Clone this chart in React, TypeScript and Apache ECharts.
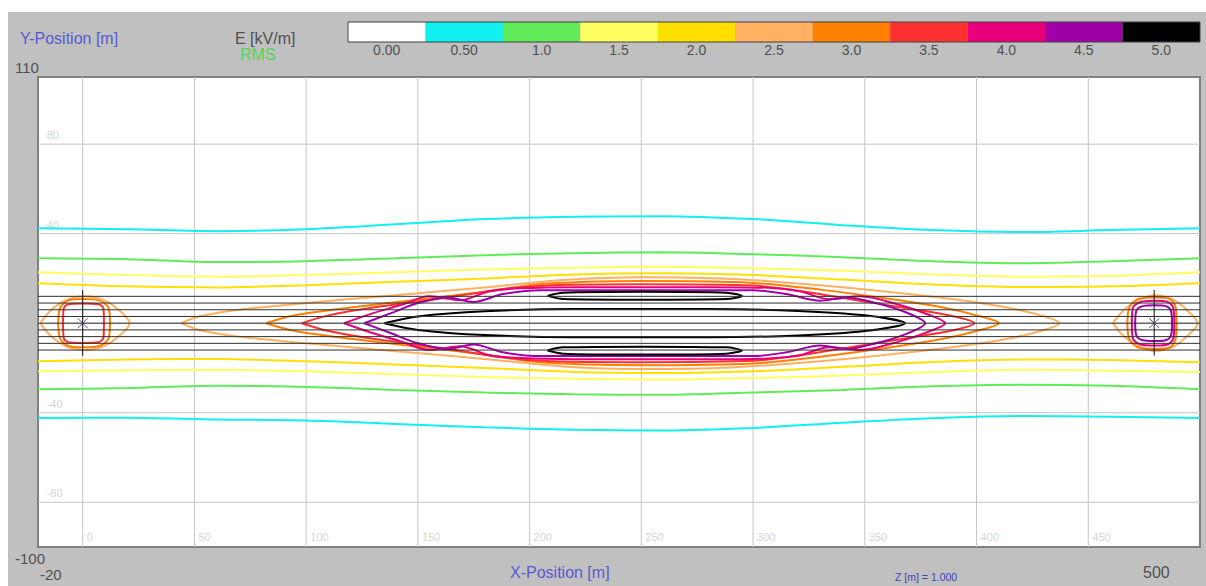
import React, { useEffect, useRef } from 'react';
import * as echarts from 'echarts';

type P = [number, number];

const X_MIN = -20;
const X_MAX = 500;
const Y_MIN = -100;
const Y_MAX = 110;
const X_GRID = [0, 50, 100, 150, 200, 250, 300, 350, 400, 450];
const Y_GRID = [80, 40, 0, -40, -80];
const Y_GRID_LABELS = [80, 40, -40, -80];
const LEGEND_LABELS = ['0.00', '0.50', '1.0', '1.5', '2.0', '2.5', '3.0', '3.5', '4.0', '4.5', '5.0'];
const LEGEND_COLORS = ['#ffffff', '#10f0f0', '#60ec58', '#ffff60', '#ffe000', '#ffb060', '#ff8000', '#ff3030', '#e8007a', '#a000a8', '#000000'];
const CONDUCTOR_Y = [12, 9, 6, 3, 0, -3, -6, -9, -12];
const TOWER_X = [0, 479.5];
const TOWER_Y = [-14.5, 14.8];

// level index -> 1: 0.5, 2: 1.0, 3: 1.5, 4: 2.0, 5: 2.5, 6: 3.0, 7: 3.5, 8: 4.0, 9: 4.5, 10: 5.0
const C05_UP: P[] = [[-20, 42.4], [20, 42.0], [60, 41.1], [100, 42.0], [140, 44.2], [180, 46.5], [220, 47.6], [260, 47.8], [300, 46.5], [340, 43.8], [380, 41.6], [420, 40.7], [460, 41.6], [500, 42.4]];
const C05_DN: P[] = [[-20, -42.4], [20, -42.2], [60, -43.0], [100, -43.5], [140, -45.0], [180, -46.5], [220, -47.6], [260, -47.9], [300, -46.8], [340, -44.5], [380, -42.5], [420, -41.5], [460, -41.8], [500, -42.4]];
const C10_UP: P[] = [[-20, 29.0], [20, 28.6], [60, 27.3], [100, 27.7], [140, 29.0], [180, 30.4], [220, 31.3], [260, 31.7], [300, 30.8], [340, 29.5], [380, 27.7], [420, 26.8], [460, 27.7], [500, 29.0]];
const C10_DN: P[] = [[-20, -29.5], [20, -29.0], [60, -28.0], [100, -28.5], [140, -29.8], [180, -31.0], [220, -31.8], [260, -32.0], [300, -31.0], [340, -29.8], [380, -28.2], [420, -27.5], [460, -28.0], [500, -29.5]];
const C15_UP: P[] = [[-20, 22.8], [20, 21.5], [60, 20.8], [100, 21.5], [140, 22.8], [180, 24.0], [220, 24.8], [260, 25.2], [300, 24.5], [340, 23.4], [380, 21.8], [420, 20.8], [460, 21.2], [500, 22.8]];
const C15_DN: P[] = [[-20, -21.5], [20, -21.0], [60, -20.8], [100, -21.5], [140, -22.8], [180, -24.0], [220, -24.8], [260, -25.2], [300, -24.5], [340, -23.4], [380, -21.8], [420, -20.8], [460, -21.2], [500, -21.8]];
const C20_UP: P[] = [[-20, 17.9], [20, 16.5], [60, 16.0], [100, 17.0], [140, 18.5], [180, 20.0], [220, 21.8], [260, 22.3], [300, 21.5], [340, 19.5], [380, 17.3], [420, 16.2], [460, 16.5], [500, 17.9]];
const C20_DN: P[] = [[-20, -17.0], [20, -16.2], [60, -16.0], [100, -17.0], [140, -18.5], [180, -20.0], [220, -21.8], [260, -22.3], [300, -21.5], [340, -19.5], [380, -17.3], [420, -16.2], [460, -16.5], [500, -17.5]];

const C25_MID_UP: P[] = [[44, 0], [52, 3], [70, 6], [100, 9], [140, 12.5], [180, 16], [215, 19.3], [250, 20.5], [290, 19.8], [330, 17], [370, 13], [405, 8.5], [425, 4.5], [437, 0]];
const C25_MID_DN: P[] = [[437, 0], [425, -4.5], [405, -8.5], [370, -13], [330, -17], [290, -19.8], [250, -20.5], [215, -19.3], [180, -16], [140, -12.5], [100, -9], [70, -6], [52, -3], [44, 0]];
const C30_MID_UP: P[] = [[82, 0], [95, 3.5], [120, 7], [150, 10.5], [180, 14], [205, 17.5], [250, 18.8], [300, 18], [330, 15], [360, 11], [385, 7], [400, 3.5], [410, 0]];
const C30_MID_DN: P[] = [[410, 0], [400, -3.5], [385, -7], [360, -11], [330, -15], [300, -18], [250, -18.8], [205, -17.5], [180, -14], [150, -10.5], [120, -7], [95, -3.5], [82, 0]];
const C35_MID_UP: P[] = [[98, 0], [110, 3.5], [130, 7], [160, 11], [190, 15.5], [210, 17], [250, 17.4], [300, 16.8], [320, 14.5], [345, 10.5], [370, 6.5], [390, 3], [399, 0]];
const C35_MID_DN: P[] = [[399, 0], [390, -3], [370, -6.5], [345, -10.5], [320, -14.5], [300, -16.8], [250, -17.4], [210, -17], [190, -15.5], [160, -11], [130, -7], [110, -3.5], [98, 0]];
const C40_MID_UP: P[] = [[117, 0], [130, 4.5], [142, 8], [155, 12], [169, 10.3], [182, 14.3], [196, 15.6], [220, 16.1], [280, 16.1], [307, 15.8], [321, 14.3], [334, 10.7], [348, 12], [366, 8], [378, 4], [386, 0]];
const C40_MID_DN: P[] = [[386, 0], [378, -4], [366, -8], [348, -12], [334, -10.7], [321, -14.3], [307, -15.8], [280, -16.1], [220, -16.1], [196, -15.6], [182, -14.3], [169, -10.3], [155, -12], [142, -8], [130, -4.5], [117, 0]];
const C45_MID_UP: P[] = [[126, 0], [138, 4.5], [150, 9], [163, 11.5], [175, 9.5], [188, 13], [205, 14.7], [300, 14.7], [315, 13], [330, 10], [342, 11.5], [355, 9], [368, 5], [377, 0]];
const C45_MID_DN: P[] = [[377, 0], [368, -5], [355, -9], [342, -11.5], [330, -10], [315, -13], [300, -14.7], [205, -14.7], [188, -13], [175, -9.5], [163, -11.5], [150, -9], [138, -4.5], [126, 0]];
const C50_BIG_UP: P[] = [[135, 0], [150, 3], [180, 5.3], [220, 6.3], [280, 6.3], [320, 5.5], [350, 3.5], [368, 0]];
const C50_BIG_DN: P[] = [[368, 0], [350, -3.5], [320, -5.5], [280, -6.3], [220, -6.3], [180, -5.3], [150, -3], [135, 0]];
const C50_TOP: P[] = [[208, 12.2], [215, 13.6], [250, 14], [288, 13.6], [295, 12.2], [288, 10.8], [250, 10.5], [215, 10.8], [208, 12.2]];
const C50_BOT: P[] = [[208, -12.2], [215, -10.8], [250, -10.5], [288, -10.8], [295, -12.2], [288, -13.6], [250, -14], [215, -13.6], [208, -12.2]];

const C25_LT: P[] = [[-19, 0], [-14, 6], [-7, 10.5], [1, 12], [9, 10.5], [16, 6], [21, 0], [16, -6], [9, -10.5], [1, -12], [-7, -10.5], [-14, -6], [-19, 0]];
const C30_LT: P[] = [[-11, 0], [-10, 7], [-6, 10.3], [0, 10.8], [7, 10.3], [11.5, 7], [12.2, 0], [11.5, -7], [7, -10.3], [0, -10.8], [-6, -10.3], [-10, -7], [-11, 0]];
const C35_LT: P[] = [[-8.8, 0], [-8.5, 6.5], [-6.5, 8.5], [0, 8.8], [7, 8.5], [9.3, 6.5], [9.5, 0], [9.3, -6.5], [7, -8.5], [0, -8.8], [-6.5, -8.5], [-8.5, -6.5], [-8.8, 0]];
const C25_RT: P[] = [[461, 0], [466, 6], [473, 10.5], [480, 12.5], [488, 10.5], [494, 6], [499, 0], [494, -6], [488, -10.5], [480, -12.5], [473, -10.5], [466, -6], [461, 0]];
const C30_RT: P[] = [[467.5, 0], [468.5, 7.5], [473, 11], [480, 11.5], [486, 11], [489, 7.5], [489.5, 0], [489, -7.5], [486, -11], [480, -11.5], [473, -11], [468.5, -7.5], [467.5, 0]];
const C40_RT: P[] = [[469.5, 0], [470, 7], [473.5, 9.5], [480, 10], [485.5, 9.5], [488, 7], [488.5, 0], [488, -7], [485.5, -9.5], [480, -10], [473.5, -9.5], [470, -7], [469.5, 0]];
const C45_RT: P[] = [[471, 0], [471.5, 5.5], [474, 7.5], [480, 8], [485, 7.5], [487, 5.5], [487.5, 0], [487, -5.5], [485, -7.5], [480, -8], [474, -7.5], [471.5, -5.5], [471, 0]];

const CONTOURS: { level: number; pts: P[] }[] = [
  { level: 1, pts: C05_UP }, { level: 1, pts: C05_DN },
  { level: 2, pts: C10_UP }, { level: 2, pts: C10_DN },
  { level: 3, pts: C15_UP }, { level: 3, pts: C15_DN },
  { level: 4, pts: C20_UP }, { level: 4, pts: C20_DN },
  { level: 5, pts: [...C25_MID_UP, ...C25_MID_DN] },
  { level: 6, pts: [...C30_MID_UP, ...C30_MID_DN] },
  { level: 7, pts: [...C35_MID_UP, ...C35_MID_DN] },
  { level: 8, pts: [...C40_MID_UP, ...C40_MID_DN] },
  { level: 9, pts: [...C45_MID_UP, ...C45_MID_DN] },
  { level: 10, pts: [...C50_BIG_UP, ...C50_BIG_DN] },
  { level: 10, pts: C50_TOP }, { level: 10, pts: C50_BOT },
  { level: 5, pts: C25_LT }, { level: 6, pts: C30_LT }, { level: 7, pts: C35_LT },
  { level: 5, pts: C25_RT }, { level: 6, pts: C30_RT }, { level: 8, pts: C40_RT }, { level: 9, pts: C45_RT },
];

const FONT = '"Liberation Sans", Arial, sans-serif';

export default function App() {
  const ref = useRef<HTMLDivElement>(null);
  useEffect(() => {
    if (!ref.current) return;
    const chart = echarts.init(ref.current, undefined, { renderer: 'svg' });
    const series: any[] = [];
    X_GRID.forEach((x) => series.push({ type: 'line', data: [[x, Y_MIN], [x, Y_MAX]], symbol: 'none', silent: true, lineStyle: { color: '#c4c4c4', width: 1 }, z: 1 }));
    Y_GRID.forEach((y) => series.push({ type: 'line', data: [[X_MIN, y], [X_MAX, y]], symbol: 'none', silent: true, lineStyle: { color: '#c4c4c4', width: 1 }, z: 1 }));
    series.push({
      type: 'scatter', data: X_GRID.map((x) => [x, -95.5]), symbolSize: 0, silent: true, z: 2,
      label: { show: true, position: 'right', distance: 4, formatter: (p: any) => String(p.value[0]), color: '#c8c8c8', fontSize: 11, fontFamily: FONT },
    });
    series.push({
      type: 'scatter', data: Y_GRID_LABELS.map((y) => [-17, y + 4]), symbolSize: 0, silent: true, z: 2,
      label: { show: true, position: 'right', distance: 2, formatter: (p: any) => String(p.value[1] - 4), color: '#c8c8c8', fontSize: 11, fontFamily: FONT },
    });
    CONTOURS.forEach((c) => series.push({
      type: 'line', data: c.pts, symbol: 'none', smooth: 0.3, silent: true, z: 3,
      lineStyle: { color: LEGEND_COLORS[c.level], width: 2 },
    }));
    CONDUCTOR_Y.forEach((y) => series.push({ type: 'line', data: [[X_MIN, y], [X_MAX, y]], symbol: 'none', silent: true, lineStyle: { color: '#303030', width: 1 }, z: 4 }));
    TOWER_X.forEach((x) => series.push({ type: 'line', data: [[x, TOWER_Y[0]], [x, TOWER_Y[1]]], symbol: 'none', silent: true, lineStyle: { color: '#101010', width: 1 }, z: 5 }));
    series.push({
      type: 'scatter', data: TOWER_X.map((x) => [x, 0]), symbol: 'path://M0,0L10,10M10,0L0,10', symbolSize: 10, silent: true, z: 6,
      itemStyle: { color: 'transparent', borderColor: '#303070', borderWidth: 1 },
    });

    const legendX0 = 340;
    const segW = (1192 - 340) / LEGEND_COLORS.length;
    const graphics: any[] = [];
    LEGEND_COLORS.forEach((c, i) => graphics.push({ type: 'rect', shape: { x: legendX0 + i * segW, y: 10, width: segW, height: 20 }, style: { fill: c } }));
    graphics.push({ type: 'rect', shape: { x: legendX0, y: 10, width: 1192 - 340, height: 20 }, style: { fill: 'none', stroke: '#404040', lineWidth: 1 } });
    LEGEND_LABELS.forEach((t, i) => graphics.push({ type: 'text', x: legendX0 + (i + 0.5) * segW, y: 38, style: { text: t, fill: '#505050', font: `14px ${FONT}`, align: 'center', verticalAlign: 'middle' } }));
    const txt = (text: string, x: number, y: number, fill: string, size = 13, align = 'left') => ({ type: 'text', x, y, style: { text, fill, font: `${size}px ${FONT}`, align, verticalAlign: 'middle' } });
    graphics.push(txt('Y-Position [m]', 12, 26, '#5a5ad0', 16));
    graphics.push(txt('E [kV/m]', 227, 26, '#505050', 16));
    graphics.push(txt('RMS', 232, 42, '#50d850', 16));
    graphics.push(txt('110', 7, 55, '#505050', 15));
    graphics.push(txt('-100', 7, 546, '#505050', 15));
    graphics.push(txt('-20', 32, 562, '#505050', 15));
    graphics.push(txt('X-Position [m]', 502, 560, '#5a5ad0', 16));
    graphics.push(txt('Z [m] = 1.000', 887, 565, '#4040c0', 10.5));
    graphics.push(txt('500', 1135, 560, '#505050', 16));

    chart.setOption({
      animation: false,
      backgroundColor: '#c0c0c0',
      grid: { left: 30, top: 65, width: 1162, height: 470, show: true, backgroundColor: '#ffffff', borderColor: '#808080', borderWidth: 2 },
      xAxis: { type: 'value', min: X_MIN, max: X_MAX, show: false },
      yAxis: { type: 'value', min: Y_MIN, max: Y_MAX, show: false },
      graphic: graphics,
      series,
    });
    return () => chart.dispose();
  }, []);
  return <div ref={ref} style={{ position: 'absolute', left: 8, top: 12, width: 1198, height: 574 }} />;
}
